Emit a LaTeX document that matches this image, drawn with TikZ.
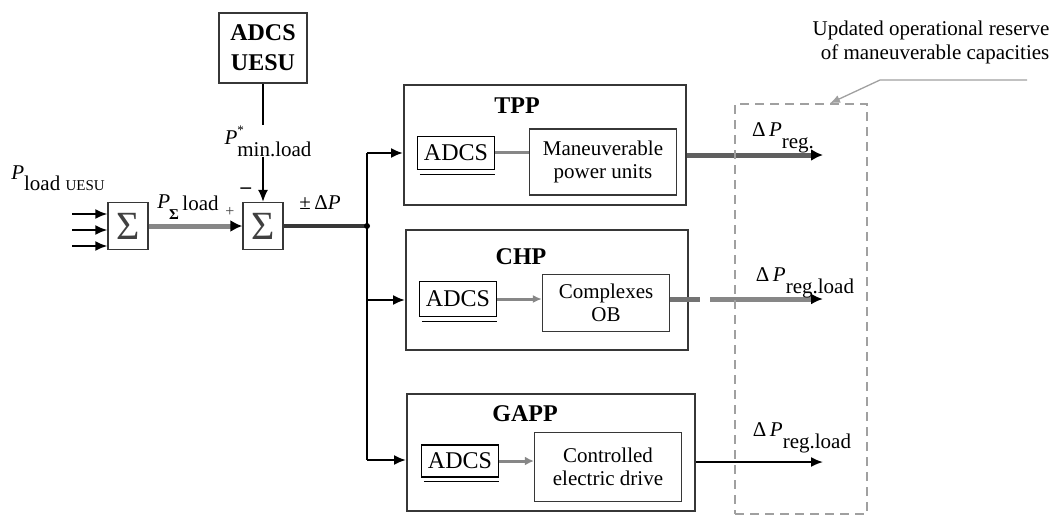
\documentclass[tikz,border=0pt]{standalone}
\usepackage{fontspec}
\setmainfont{Liberation Serif}
\usepackage{tikz}
\usetikzlibrary{arrows.meta}
\definecolor{framegray}{RGB}{55,55,55}
\definecolor{linkgray}{RGB}{135,135,135}
\definecolor{reservegray}{RGB}{160,160,160}

% power with a lowered index
\newcommand{\pw}[1]{\textit{P}\raisebox{-1.3ex}{#1}}

\begin{document}
\begin{tikzpicture}[x=1pt, y=-1pt,
    plant/.style={rectangle, draw=framegray, line width=2pt, minimum width=282pt, minimum height=120pt},
    unit/.style={rectangle, draw=framegray, line width=1.3pt, align=center, text centered, font=\fontsize{21}{23}\selectfont},
    ctrl/.style={rectangle, draw=black, line width=1.3pt, minimum width=77pt, minimum height=33pt, inner sep=1pt, font=\fontsize{24}{26}\selectfont},
    summer/.style={rectangle, draw=framegray, line width=1.3pt, minimum width=40pt, minimum height=47pt, inner sep=0pt, text=darkgray, font=\fontsize{40}{42}\selectfont},
    title/.style={font=\bfseries\fontsize{24}{30}\selectfont},
    sig/.style={inner sep=0pt, font=\fontsize{21}{24}\selectfont},
    arrow/.style={line width=2pt, -{Latex[length=12pt, width=10pt]}},
    link/.style={draw=linkgray, line width=3pt},
    >=stealth]

    \useasboundingbox (0,0) rectangle (1060,515);

    % dispatch block and summing points
    \node [rectangle, draw=framegray, line width=1.5pt, minimum width=88pt, minimum height=70pt, align=center, title] (uesu) at (263,48) {ADCS\\UESU};
    \node [summer] (sum1) at (128,226) {Σ};
    \node [summer] (sum2) at (263,226) {Σ};

    % loads entering the first summing point
    \foreach \y [count=\i] in {214,230,246} {
        \coordinate (in\i) at (72,\y);
        \draw [arrow] (in\i) -- (in\i -| sum1.west);
    }

    \node [sig] (pload) at (58,178) {\textit{P}\raisebox{-1.1ex}{load \fontsize{15}{15}\selectfont UESU}};
    \node [sig] (psum) at (188,207) {\textit{P}\hspace{-1pt}\raisebox{-1.2ex}{\textbf{\fontsize{15}{15}\selectfont Σ}}\,\raisebox{-0.2ex}{load}};
    \node [sig] (pmin) at (268,141) {\textit{P}\rlap{\raisebox{1.1ex}{\fontsize{13}{13}\selectfont *}}\raisebox{-1.2ex}{min.load}};
    \node [sig, text=darkgray] (plus) at (230,212) {\fontsize{16}{16}\selectfont +};
    \node [sig] (minus) at (246,191) {\textbf{–}};
    \node [sig] (dp) at (320,203) {±\,Δ\textit{P}};

    % set point from the dispatch block
    \draw [line width=1.5pt] (uesu.south) -- (uesu.south |- pmin.north);
    \draw [arrow, line width=1.5pt] (uesu.south |- pmin.south) -- (sum2.north);
    \draw [link, line width=5pt, -{Latex[black, length=12pt, width=12pt]}] (sum1) -- (sum2);

    % plants
    \node [plant] (tpp) at (545,145) {};
    \node [plant] (chp) at (547,290) {};
    \node [plant, minimum width=288pt, minimum height=117pt] (gapp) at (551,452) {};
    \node [title] (tpptitle) at (517,106) {TPP};
    \node [title] (chptitle) at (521,257) {CHP};
    \node [title] (gapptitle) at (525,414) {GAPP};

    \node [ctrl] (tppc) at (456,153) {ADCS};
    \node [ctrl, minimum height=35pt] (chpc) at (458,299) {ADCS};
    \node [ctrl, minimum height=32pt] (gappc) at (460,461) {ADCS};
    \foreach \c in {tppc, chpc, gappc}
        \draw [line width=1.3pt] ([xshift=3pt, yshift=-4pt]\c.south west) -- ([yshift=-4pt]\c.south east);

    \node [unit, minimum width=147pt, minimum height=66pt] (units) at (603,162) {Maneuverable\\power units};
    \node [unit, minimum width=127pt, minimum height=57pt] (cpx) at (606,303) {Complexes\\OB};
    \node [unit, minimum width=147pt, minimum height=69pt] (drive) at (608,467) {Controlled\\electric drive};

    \draw [link] (tppc.east |- 0,152) -- (units.west |- 0,152);
    \draw [link, -{Latex[length=9pt, width=8pt]}] (chpc) -- (chpc -| cpx.west);
    \draw [link, -{Latex[length=9pt, width=9pt]}] (gappc) -- (gappc -| drive.west);

    % distribution of the imbalance
    \coordinate (split) at (367,226);
    \coordinate (btpp) at (367,153);
    \coordinate (bchp) at (367,300);
    \coordinate (bgapp) at (367,460);
    \draw [line width=4pt, draw=framegray] (sum2.east) -- (split);
    \draw [line width=2pt] (btpp) -- (bgapp);
    \fill (split) circle (3pt);
    \draw [arrow] (btpp) -- (btpp -| tpp.west);
    \draw [arrow] (bchp) -- (bchp -| chp.west);
    \draw [arrow] (bgapp) -- (bgapp -| gapp.west);

    % reserve outputs
    \coordinate (tppout) at (823,155);
    \coordinate (chpcut) at (700,299);
    \coordinate (chpresume) at (710,299);
    \coordinate (chpout) at (823,299);
    \coordinate (gappout) at (823,462);
    \draw [line width=5pt, draw=framegray!80, -{Latex[black, length=12pt, width=12pt]}] (tpp.east |- tppout) -- (tppout);
    \draw [link, line width=5pt, draw=framegray!70] (cpx.east |- chpcut) -- (chpcut);
    \draw [link, line width=5pt, -{Latex[black, length=12pt, width=11pt]}] (chpresume) -- (chpout);
    \draw [arrow, line width=1.8pt] (gapp.east |- gappout) -- (gappout);

    \node [sig] (dptpp) at (783,138) {Δ\,\pw{reg.}};
    \node [sig] (dpchp) at (805,283) {Δ\,\pw{reg.load}};
    \node [sig] (dpgapp) at (802,438) {Δ\,\pw{reg.load}};

    % updated reserve
    \node [draw=reservegray, line width=1.5pt, dash pattern=on 9pt off 6pt, minimum width=132pt, minimum height=410pt] (reserve) at (801,309) {};
    \node [align=right, font=\fontsize{21}{24}\selectfont] (note) at (931,42) {Updated operational reserve\\of maneuverable capacities};
    \coordinate (noteend) at (1027,80);
    \draw [draw=reservegray, line width=1.3pt, -{Latex[length=10pt, width=8pt]}] (noteend) -- (880,80) -- ([xshift=29pt]reserve.north);
\end{tikzpicture}
\end{document}
